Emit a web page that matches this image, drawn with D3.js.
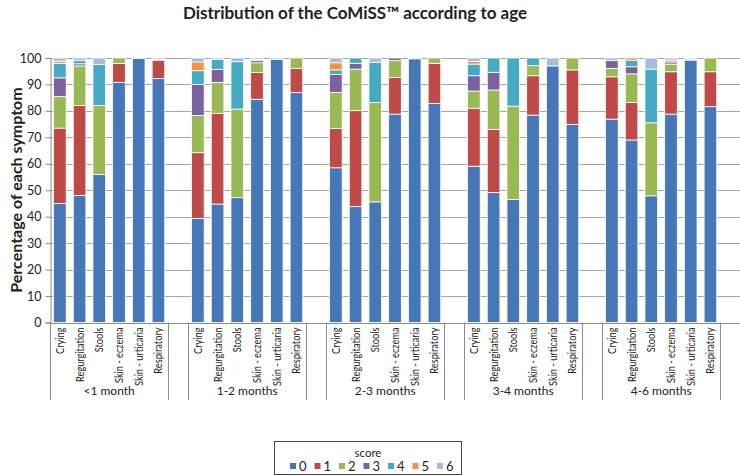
<!DOCTYPE html>
<html lang="en">
<head>
<meta charset="utf-8">
<title>Distribution of the CoMiSS according to age</title>
<script src="https://cdnjs.cloudflare.com/ajax/libs/d3/7.8.5/d3.min.js"></script>
<style>
  body { margin: 0; background: #fff; }
  svg text { font-family: Lato, "Open Sans", sans-serif; fill: #222; }
</style>
</head>
<body>
<div id="chart"></div>
<script>

// categories
const groups = ["<1 month", "1-2 months", "2-3 months", "3-4 months", "4-6 months"];
const symptoms = ["Crying", "Regurgitation", "Stools", "Skin - eczema", "Skin - urticaria", "Respiratory"];
const scores = ["0", "1", "2", "3", "4", "5", "6"];
const yTicks = [0, 10, 20, 30, 40, 50, 60, 70, 80, 90, 100];

// percentage per score, 6 symptoms x 5 age groups (group by group)
const score0 = [45, 48, 56, 90.8, 99.8, 92.2,  39.3, 44.8, 47.2, 84.4, 99.5, 86.9,  58.5, 43.8, 45.6, 78.8, 99.7, 82.8,  59.1, 49.1, 46.5, 78.4, 97, 74.9,  76.9, 69, 47.9, 78.8, 99.2, 81.6];
const score1 = [28.5, 34, 0, 7.2, 0.2, 7,  24.9, 34.3, 0, 10.1, 0, 9.2,  14.9, 36.3, 0, 13.8, 0.3, 15.2,  21.9, 23.9, 0, 14.9, 0, 20.6,  16, 14.2, 0, 16, 0.4, 13.2];
const score2 = [12, 15, 26, 2, 0, 0.3,  14.1, 11.7, 33.5, 3.7, 0, 3.9,  13.6, 15.7, 37.6, 6.4, 0, 2,  6.5, 14.9, 35.3, 3.8, 0, 4.5,  3.2, 10.8, 27.6, 2.9, 0, 5.2];
const score3 = [7, 0.8, 0, 0, 0, 0,  11.7, 4.9, 0, 0.8, 0, 0,  6.8, 2.2, 0, 1, 0, 0,  5.8, 6.7, 0, 0, 0, 0,  2.9, 2.7, 0, 0.8, 0, 0];
const score4 = [5.5, 1.2, 15.5, 0, 0, 0,  5.2, 3.8, 17.9, 0.5, 0, 0,  1.7, 2, 15.2, 0, 0, 0,  4.4, 5.4, 18.2, 2.9, 0, 0,  0, 2.5, 20.3, 0, 0, 0];
const score5 = [0.8, 0, 0, 0, 0, 0,  3.3, 0, 0, 0, 0, 0,  2.7, 0, 0, 0, 0, 0,  1, 0, 0, 0, 0, 0,  0, 0.8, 0, 0.7, 0, 0];
const score6 = [1.2, 1, 2.5, 0, 0, 0.5,  1.5, 0.5, 1.4, 0.5, 0.5, 0,  1.8, 0, 1.6, 0, 0, 0,  1.3, 0, 0, 0, 3, 0,  1, 0, 4.2, 0.8, 0.4, 0];

const colors = ["#4677b8", "#be4b48", "#98b954", "#7d60a0", "#46aac5", "#f69240", "#a5bbde"];

const width = 740;
const height = 475;
const plotLeft = 50, plotRight = 740, plotTop = 58, plotBottom = 322.5;

const svg = d3.select("#chart")
    .append("svg")
    .attr("width", width)
    .attr("height", height);

// build rows, one per bar
const allScores = [score0, score1, score2, score3, score4, score5, score6];
const rows = [];
groups.forEach((g, gi) => {
  symptoms.forEach((s, si) => {
    const i = gi * symptoms.length + si;
    const row = { key: g + "|" + s, group: g, symptom: s };
    scores.forEach((k, ki) => row[k] = allScores[ki][i]);
    rows.push(row);
  });
});

// slot keys: 6 bars + one empty slot per group
const slots = [];
groups.forEach(g => {
  symptoms.forEach(s => slots.push(g + "|" + s));
  slots.push("gap|" + g);
});

const x = d3.scaleBand()
    .domain(slots)
    .range([plotLeft, plotRight])
    .paddingInner(0.36)
    .paddingOuter(0.18);

const y = d3.scaleLinear()
    .domain([0, 100])
    .range([plotBottom, plotTop]);

const slotLeft = k => x(k) - (x.step() - x.bandwidth()) / 2;
const slotRight = k => slotLeft(k) + x.step();

// gridlines
svg.append("g")
  .selectAll("line")
  .data(yTicks)
  .enter()
  .append("line")
    .attr("x1", plotLeft)
    .attr("x2", plotRight)
    .attr("y1", d => Math.round(y(d)) + 0.5)
    .attr("y2", d => Math.round(y(d)) + 0.5)
    .attr("stroke", "#a6a6a6")
    .attr("stroke-width", 1);

// stacked bars
const stack = d3.stack().keys(scores);
const series = stack(rows);

svg.append("g")
  .selectAll("g")
  .data(series)
  .enter()
  .append("g")
    .attr("fill", (d, i) => colors[i])
  .selectAll("rect")
  .data(d => d.filter(p => p[1] - p[0] > 0))
  .enter()
  .append("rect")
    .attr("x", d => x(d.data.key))
    .attr("width", x.bandwidth())
    .attr("y", d => y(d[1]))
    .attr("height", d => y(d[0]) - y(d[1]))
    .attr("stroke", "#ffffff")
    .attr("stroke-width", 0.8);

// y axis
const yAxis = d3.axisLeft(y)
    .tickValues(yTicks)
    .tickSize(5)
    .tickPadding(4);

const yG = svg.append("g")
    .attr("transform", `translate(${plotLeft + 0.5},0)`)
    .call(yAxis);
yG.select(".domain").attr("stroke", "#8c8c8c");
yG.selectAll(".tick line").attr("stroke", "#8c8c8c");
yG.selectAll(".tick text")
    .style("font-size", "12.5px")
    .style("font-family", "Lato, sans-serif")
    .attr("fill", "#222");

// x axis line
svg.append("line")
    .attr("x1", plotLeft)
    .attr("x2", plotRight)
    .attr("y1", Math.round(plotBottom) + 0.5)
    .attr("y2", Math.round(plotBottom) + 0.5)
    .attr("stroke", "#8c8c8c");

// group separators
const sepX = [];
groups.forEach(g => {
  sepX.push(slotLeft(g + "|" + symptoms[0]));
  sepX.push(slotRight(g + "|" + symptoms[symptoms.length - 1]));
});
svg.append("g")
  .selectAll("line")
  .data(sepX)
  .enter()
  .append("line")
    .attr("x1", d => Math.round(d) + 0.5)
    .attr("x2", d => Math.round(d) + 0.5)
    .attr("y1", plotBottom)
    .attr("y2", 400)
    .attr("stroke", "#8c8c8c");

// symptom labels (squeezed along the text direction, like a narrow font)
svg.append("g")
  .selectAll("text")
  .data(rows)
  .enter()
  .append("text")
    .attr("transform", d => `translate(${x(d.key) + x.bandwidth() / 2 + 4},${plotBottom + 5}) rotate(-90) scale(0.84,1)`)
    .attr("text-anchor", "end")
    .style("font-size", "11px")
    .text(d => d.symptom);

// group labels
svg.append("g")
  .selectAll("text")
  .data(groups)
  .enter()
  .append("text")
    .attr("x", g => (slotLeft(g + "|" + symptoms[0]) + slotRight(g + "|" + symptoms[5])) / 2)
    .attr("y", 395)
    .attr("text-anchor", "middle")
    .style("font-size", "12px")
    .text(g => g);

// title
svg.append("text")
    .attr("x", 355)
    .attr("y", 19)
    .attr("text-anchor", "middle")
    .style("font-size", "17px")
    .style("font-weight", "bold")
    .text("Distribution of the CoMiSS\u2122 according to age");

// y axis title
svg.append("text")
    .attr("transform", "translate(22,190) rotate(-90)")
    .attr("text-anchor", "middle")
    .style("font-size", "16px")
    .style("font-weight", "bold")
    .text("Percentage of each symptom");

// legend
const legend = svg.append("g");
legend.append("rect")
    .attr("x", 274.5)
    .attr("y", 441.5)
    .attr("width", 187)
    .attr("height", 33)
    .attr("fill", "#fff")
    .attr("stroke", "#444");
legend.append("text")
    .attr("x", 368)
    .attr("y", 457)
    .attr("text-anchor", "middle")
    .style("font-size", "11.5px")
    .text("score");
const item = legend.selectAll("g.item")
  .data(scores)
  .enter()
  .append("g")
    .attr("class", "item")
    .attr("transform", (d, i) => `translate(${290 + i * 24.5},466)`);
item.append("rect")
    .attr("x", 0)
    .attr("y", -3)
    .attr("width", 6)
    .attr("height", 6)
    .attr("fill", (d, i) => colors[i]);
item.append("text")
    .attr("x", 9)
    .attr("y", 4.5)
    .style("font-size", "13px")
    .text(d => d);

</script>
</body>
</html>
